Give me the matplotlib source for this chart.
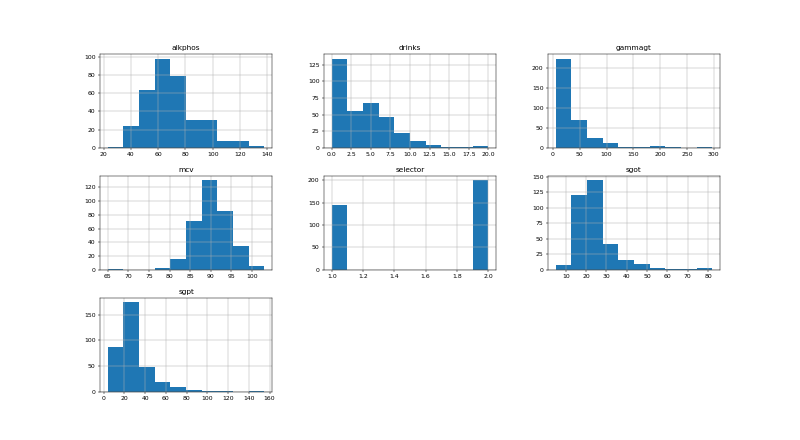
import numpy as np
import matplotlib
matplotlib.use("Agg")
import matplotlib.pyplot as plt

columns = ["alkphos", "drinks", "gammagt", "mcv", "selector", "sgot", "sgpt"]
ranges = {
    "alkphos": (23, 138),
    "drinks": (0, 20),
    "gammagt": (5, 297),
    "mcv": (65, 103),
    "selector": (1, 2),
    "sgot": (5, 82),
    "sgpt": (4, 155),
}
alkphos_counts = [1, 24, 64, 98, 79, 31, 31, 8, 7, 2]
drinks_counts = [134, 56, 67, 46, 22, 10, 4, 1, 2, 3]
gammagt_counts = [224, 71, 24, 13, 3, 3, 5, 1, 0, 1]
mcv_counts = [1, 0, 0, 3, 15, 71, 130, 85, 35, 5]
selector_counts = [145, 0, 0, 0, 0, 0, 0, 0, 0, 200]
sgot_counts = [7, 121, 144, 41, 15, 10, 3, 1, 1, 2]
sgpt_counts = [87, 174, 47, 19, 8, 4, 2, 2, 0, 2]

counts = {
    "alkphos": alkphos_counts,
    "drinks": drinks_counts,
    "gammagt": gammagt_counts,
    "mcv": mcv_counts,
    "selector": selector_counts,
    "sgot": sgot_counts,
    "sgpt": sgpt_counts,
}

scale = 0.44
fig, axes = plt.subplots(3, 3, figsize=(8 / scale, 4.4 / scale), dpi=100 * scale)
fig.subplots_adjust(wspace=0.3, hspace=0.3, top=0.877, bottom=0.11)
for i, ax in enumerate(axes.flat):
    if i >= len(columns):
        ax.set_visible(False)
        continue
    col = columns[i]
    lo, hi = ranges[col]
    edges = np.linspace(lo, hi, 11)
    ax.hist(edges[:-1], bins=edges, weights=counts[col], color="#1f77b4")
    ax.set_title(col, fontsize=12)
    ax.grid(True)
    ax.tick_params(labelsize=10)

fig.savefig("out.png", dpi=100 * scale)
